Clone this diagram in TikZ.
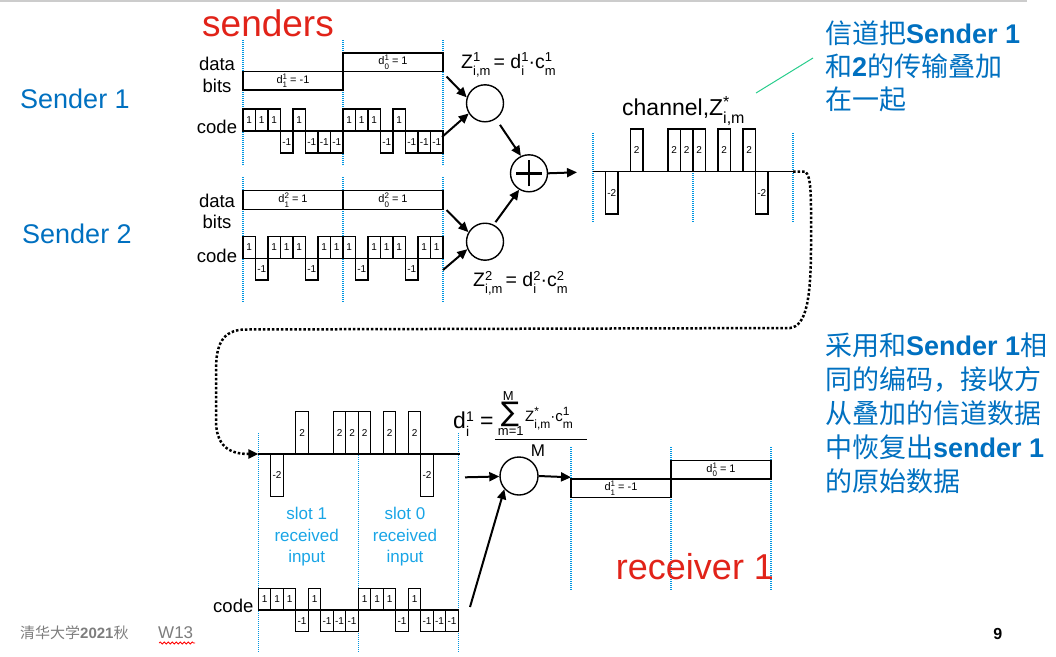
\documentclass[tikz,border=0pt]{standalone}
\usepackage{fontspec}
\setmainfont{Liberation Sans}
\newfontfamily\cjk{Noto Sans CJK SC}
\newfontfamily\symfont{DejaVu Sans}
\usetikzlibrary{arrows.meta, decorations.pathmorphing}

\definecolor{slotblue}{RGB}{0,150,225}
\definecolor{labelblue}{RGB}{0,112,192}
\definecolor{inputblue}{RGB}{25,165,230}
\definecolor{titlered}{RGB}{225,35,25}
\definecolor{notegreen}{RGB}{40,205,140}
\definecolor{footgray}{RGB}{125,125,125}

\newcommand{\fsz}[1]{\fontsize{#1}{#1}\selectfont}
% letter with indices: index size, letter, upper, lower
\newcommand{\idx}[4]{#2{\fsz{#1}\ooalign{\raisebox{0.5em}{#3}\cr\raisebox{-0.55em}{#4}\cr}}}

% chips: name, start x, baseline, unit height, values
\newcommand{\chipwave}[5]{%
  \foreach \val [count=\ci from 0] in {#5} {
    \ifnum\val=0\relax\else
      \draw[chip] ({#2+\ci*12.5}, #3) rectangle ({#2+(\ci+1)*12.5}, {#3-(\val)*#4});
      \node[chiplabel] (#1-\ci) at ({#2+(\ci+0.5)*12.5}, {#3-(\val)*#4/2}) {\val};
    \fi
  }%
}

% data bits: name, start x, baseline, slot width, level/label
\newcommand{\bitwave}[5]{%
  \foreach \val/\lab [count=\ci from 0] in {#5} {
    \draw[chip] ({#2+\ci*#4}, #3) rectangle ({#2+(\ci+1)*#4}, {#3-(\val)*18.5});
    \node[bitlabel] (#1-\ci) at ({#2+(\ci+0.5)*#4}, {#3-(\val)*9.25}) {\lab};
  }%
}

\tikzset{
  chip/.style={draw, line width=1.3pt},
  chiplabel/.style={font=\fsz{10}, inner sep=0pt},
  bitlabel/.style={font=\fsz{11}, inner sep=0pt},
  axislabel/.style={font=\fontsize{18.5}{21.3}\selectfont, inner sep=0pt, align=center},
  slotline/.style={slotblue, line width=1.2pt, dash pattern=on 1pt off 1pt},
  arrow/.style={-{Triangle[length=10pt, width=9pt]}, line width=2pt},
  dotlink/.style={-{Triangle[length=10pt, width=9pt]}, line width=2.5pt, dash pattern=on 2.5pt off 2pt},
  mult/.style={circle, draw, line width=1.4pt, minimum size=37pt, inner sep=0pt},
  formula/.style={font=\fsz{19.5}, inner sep=0pt, anchor=base west},
  title/.style={titlered, font=\fsz{37}, inner sep=0pt, anchor=base},
  sender/.style={labelblue, font=\fsz{27}, inner sep=0pt, anchor=base west},
  note/.style={labelblue, inner sep=0pt, anchor=north west, align=left},
  slottext/.style={inputblue, font=\fontsize{17}{21.5}\selectfont, inner sep=0pt, align=center},
}

\begin{document}
\begin{tikzpicture}[x=1pt, y=-1pt]
    %\draw[lightgray] (0, 0) grid[step=50] (1056, 656);
    \useasboundingbox (0, 0) rectangle (1056, 656);
    \draw[black!20, line width=1.5pt] (0, 1) -- (1027, 1);

    \node[title] (senders) at (268, 36.5) {senders};
    \node[sender] (sender1) at (20, 108.3) {Sender 1};
    \node[sender] (sender2) at (22, 243.3) {Sender 2};

    % sender 1
    \node[axislabel] (data1) at (217, 74.9) {data\\bits};
    \node[axislabel, anchor=base] (code1) at (217, 133.3) {code};
    \foreach \x in {243, 343, 443} \draw[slotline] (\x, 40) -- (\x, 165);
    \bitwave{bit1}{243}{71.5}{100}{-1/{\idx{8}{d}{1}{1} = -1}, 1/{\idx{8}{d}{1}{0} = 1}}
    \chipwave{chip1}{243}{131}{22}{1,1,1,-1,1,-1,-1,-1,1,1,1,-1,1,-1,-1,-1}

    % sender 2
    \node[axislabel] (data2) at (217, 211.6) {data\\bits};
    \node[axislabel, anchor=base] (code2) at (217, 262.3) {code};
    \foreach \x in {243, 343, 443} \draw[slotline] (\x, 177) -- (\x, 302);
    \bitwave{bit2}{243}{209.3}{100}{1/{\idx{8}{d}{2}{1} = 1}, 1/{\idx{8}{d}{2}{0} = 1}}
    \chipwave{chip2}{243}{258.3}{21.6}{1,-1,1,1,1,-1,1,1,1,-1,1,1,1,-1,1,1}

    % multiply and add
    \node[mult] (mult1) at (485, 103.3) {};
    \node[mult] (mult2) at (485, 241.7) {};
    \node[mult] (adder) at (529, 173.3) {};
    \draw[line width=2.4pt] ([xshift=-13pt]adder.center) -- ([xshift=13pt]adder.center);
    \draw[line width=2.4pt] ([yshift=-13pt]adder.center) -- ([yshift=13pt]adder.center);
    \node[formula] (zeq1) at (461, 68.3) {\idx{13}{Z}{1}{i,m}\,= \idx{13}{d}{1}{i}·\idx{13}{c}{1}{m}};
    \node[formula] (zeq2) at (473, 286.7) {\idx{13}{Z}{2}{i,m}\,= \idx{13}{d}{2}{i}·\idx{13}{c}{2}{m}};

    \coordinate (bit1end) at (446.5, 76.5);
    \coordinate (chip1end) at (442, 137);
    \coordinate (bit2end) at (446.5, 210);
    \coordinate (chip2end) at (443, 270);
    \draw[arrow] (bit1end) -- (mult1.162);
    \draw[arrow] (chip1end) -- (mult1.212);
    \draw[arrow] (bit2end) -- (mult2.150);
    \draw[arrow] (chip2end) -- (mult2.203);
    \draw[arrow, shorten <=7pt] (mult1.-55) -- (adder.115);
    \draw[arrow, shorten <=3pt] (mult2.63) -- (adder.239);
    \coordinate (chanin) at (577, 172.3);
    \draw[arrow] (adder.east) -- (chanin);

    % channel
    \node[font=\fsz{23}, inner sep=0pt, anchor=base west] (chanlabel) at (622, 115) {channel,\idx{16}{Z}{*}{i,m}};
    \foreach \x in {593, 693, 793} \draw[slotline] (\x, 133) -- (\x, 223);
    \draw[chip] (593, 171.5) -- (793, 171.5);
    \chipwave{chan}{593}{171.5}{21.3}{0,-2,0,2,0,0,2,2,2,0,2,0,2,-2,0,0}

    \node[note, font=\fontsize{27}{33}\selectfont] (note1) at (825, 21)
        {{\cjk 信道把}\textbf{Sender 1}\\{\cjk 和}\textbf{2}{\cjk 的传输叠加}\\{\cjk 在一起}};
    \coordinate (notetip) at (756, 93);
    \coordinate (noteend) at (813, 58);
    \draw[notegreen, line width=1pt] (notetip) -- (noteend);

    % channel to receiver
    \coordinate (chanout) at (793, 171.5);
    \coordinate (recvin) at (258.3, 454);
    \draw[dotlink] (chanout) -- (805, 171.5) .. controls (812, 176) and (811, 200) .. (811, 245)
        .. controls (811, 300) and (806, 326) .. (790, 328) -- (245, 329.5)
        .. controls (222, 330) and (216, 345) .. (216, 370) -- (216, 420)
        .. controls (216, 445) and (228, 454) .. (recvin);

    % receiver 1
    \foreach \x in {258.3, 358.3, 458.3} \draw[slotline] (\x, 433) -- (\x, 652);
    \draw[chip] (recvin) -- (460, 454);
    \chipwave{recv}{258.3}{454}{21.2}{0,-2,0,2,0,0,2,2,2,0,2,0,2,-2,0,0}
    \node[slottext] (slot1) at (306.7, 537) {slot 1\\received\\input};
    \node[slottext] (slot0) at (405, 537) {slot 0\\received\\input};
    \node[axislabel, anchor=base] (code3) at (233.3, 612.3) {code};
    \chipwave{chip3}{258.3}{610}{21.7}{1,1,1,-1,1,-1,-1,-1,1,1,1,-1,1,-1,-1,-1}

    \node[mult, minimum size=38pt] (decoder) at (519, 476) {};
    \coordinate (recvout) at (465, 477.3);
    \coordinate (chip3end) at (470, 607);
    \coordinate (bitsout) at (571, 477.3);
    \draw[arrow] (recvout) -- (decoder);
    \draw[arrow] (chip3end) -- (decoder.222);
    \draw[arrow] (decoder.east) -- (bitsout);

    \node[font=\fsz{23}, inner sep=0pt, anchor=base west] (dlhs) at (453, 428.3) {\idx{14}{d}{1}{i} =};
    \node[font=\fsz{27}, inner sep=0pt] (sumsym) at (510, 414) {\symfont ∑};
    \node[font=\fsz{13}, inner sep=0pt] (sumtop) at (508.3, 396) {M};
    \node[font=\fsz{13}, inner sep=0pt] (sumbot) at (510.8, 431) {m=1};
    \node[font=\fsz{15}, inner sep=0pt, anchor=base west] (sumterm) at (525, 421.7) {\idx{12}{Z}{*}{i,m}·\idx{12}{c}{1}{m}};
    \draw[line width=1.4pt] (495, 439.3) -- (587, 439.3);
    \node[font=\fsz{17}, inner sep=0pt] (denom) at (538, 451) {M};

    \foreach \x in {571, 671, 771} \draw[slotline] (\x, 447) -- (\x, 590);
    \bitwave{bit3}{571}{479}{100}{-1/{\idx{8}{d}{1}{1} = -1}, 1/{\idx{8}{d}{1}{0} = 1}}
    \node[title, font=\fsz{36}] (receiver) at (695, 579.3) {receiver 1};

    \node[note, font=\fontsize{27}{34}\selectfont] (note2) at (825, 333)
        {{\cjk 采用和}\textbf{Sender 1}{\cjk 相}\\{\cjk 同的编码，接收方}\\{\cjk 从叠加的信道数据}\\{\cjk 中恢复出}\textbf{sender 1}\\{\cjk 的原始数据}};

    % footer
    \node[footgray, font=\fsz{15}, inner sep=0pt, anchor=base west] (footer) at (20, 638) {{\cjk 清华大学}\textbf{2021}{\cjk 秋}};
    \node[footgray, font=\fsz{17}, inner sep=0pt, anchor=base west] (week) at (158, 638) {W13};
    \draw[red, line width=0.8pt, decorate, decoration={snake, amplitude=1pt, segment length=4pt}] (159, 643) -- (195, 643);
    \node[font=\fsz{16}\bfseries, inner sep=0pt] (page) at (997.7, 633.7) {9};
\end{tikzpicture}
\end{document}
